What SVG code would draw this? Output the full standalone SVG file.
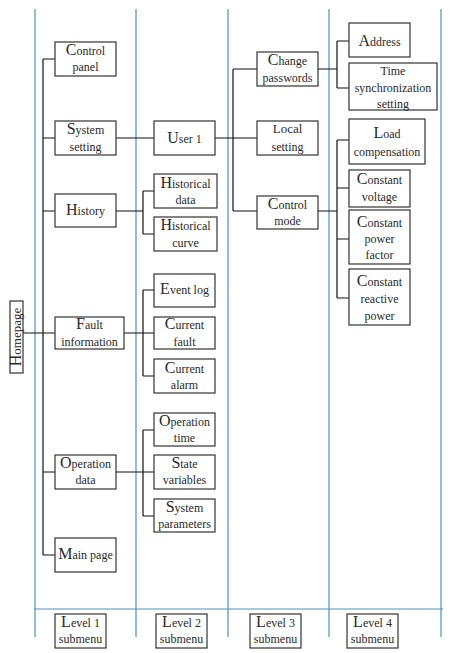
<svg xmlns="http://www.w3.org/2000/svg" width="453" height="653" viewBox="0 0 453 653">
<style>
.grid{stroke:#4a94bb;stroke-width:1.2;fill:none}
.box{fill:#fff;stroke:#333;stroke-width:1.2}
.con{stroke:#111;stroke-width:1.2;fill:none}
text{font-family:"Liberation Serif","Times New Roman",serif;font-size:12px;fill:#2a2a2a;text-anchor:middle}
.b{font-size:16px}
</style>
<rect width="453" height="653" fill="#fff"/>
<g id="grid">
<path class="grid" d="M35 9V637M136 9V637M228 9V637M329 9V637M441 9V637M34 609H443"/>
</g>
<g id="connectors">
<path class="con" d="M23 333H43M43 59V555M43 59H55M43 138H55M43 211H55M43 333H55M43 472H55M43 555H55"/>
<path class="con" d="M116 138H154M116 211H143M143 191V234M143 191H154M143 234H154"/>
<path class="con" d="M124 333H154M143 290V376M143 290H154M143 376H154"/>
<path class="con" d="M116 472H154M143 430V516M143 430H154M143 516H154"/>
<path class="con" d="M215 138H257M233 69V211M233 69H257M233 211H257"/>
<path class="con" d="M318 69H337M337 41V88M337 41H349M337 88H349"/>
<path class="con" d="M318 211H337M337 140V298M337 140H349M337 188H349M337 239H349M337 298H349"/>
</g>
<g id="homepage"><rect class="box" x="10" y="301" width="13" height="72"/><text transform="translate(21 337) rotate(-90)" style="font-size:13px"><tspan class="b">H</tspan>omepage</text></g>
<g id="control-panel"><rect class="box" x="55" y="42" width="61" height="34"/><text x="85.5" y="55"><tspan class="b">C</tspan>ontrol</text><text x="85.5" y="71">panel</text></g>
<g id="system-setting"><rect class="box" x="55" y="121" width="61" height="34"/><text x="85.5" y="134"><tspan class="b">S</tspan>ystem</text><text x="85.5" y="151">setting</text></g>
<g id="history"><rect class="box" x="55" y="194" width="61" height="33"/><text x="85.5" y="215"><tspan class="b">H</tspan>istory</text></g>
<g id="fault-information"><rect class="box" x="55" y="317" width="69" height="32"/><text x="89.5" y="329"><tspan class="b">F</tspan>ault</text><text x="89.5" y="346">information</text></g>
<g id="operation-data"><rect class="box" x="55" y="455" width="61" height="34"/><text x="85.5" y="468"><tspan class="b">O</tspan>peration</text><text x="85.5" y="484">data</text></g>
<g id="main-page"><rect class="box" x="55" y="538" width="61" height="34"/><text x="85.5" y="559"><tspan class="b">M</tspan>ain page</text></g>
<g id="user-1"><rect class="box" x="154" y="121" width="61" height="34"/><text x="184.5" y="143"><tspan class="b">U</tspan>ser 1</text></g>
<g id="historical-data"><rect class="box" x="154" y="174" width="63" height="34"/><text x="185.5" y="188"><tspan class="b">H</tspan>istorical</text><text x="185.5" y="204">data</text></g>
<g id="historical-curve"><rect class="box" x="154" y="217" width="63" height="34"/><text x="185.5" y="230"><tspan class="b">H</tspan>istorical</text><text x="185.5" y="247">curve</text></g>
<g id="event-log"><rect class="box" x="154" y="274" width="61" height="33"/><text x="184.5" y="294"><tspan class="b">E</tspan>vent log</text></g>
<g id="current-fault"><rect class="box" x="154" y="317" width="61" height="32"/><text x="184.5" y="329"><tspan class="b">C</tspan>urrent</text><text x="184.5" y="346">fault</text></g>
<g id="current-alarm"><rect class="box" x="154" y="359" width="61" height="34"/><text x="184.5" y="373"><tspan class="b">C</tspan>urrent</text><text x="184.5" y="389">alarm</text></g>
<g id="operation-time"><rect class="box" x="154" y="413" width="61" height="33"/><text x="184.5" y="426"><tspan class="b">O</tspan>peration</text><text x="184.5" y="442">time</text></g>
<g id="state-variables"><rect class="box" x="154" y="455" width="61" height="34"/><text x="184.5" y="468"><tspan class="b">S</tspan>tate</text><text x="184.5" y="484">variables</text></g>
<g id="system-parameters"><rect class="box" x="154" y="499" width="61" height="33"/><text x="184.5" y="512"><tspan class="b">S</tspan>ystem</text><text x="184.5" y="528">parameters</text></g>
<g id="change-passwords"><rect class="box" x="257" y="52" width="61" height="34"/><text x="287.5" y="65"><tspan class="b">C</tspan>hange</text><text x="287.5" y="82">passwords</text></g>
<g id="local-setting"><rect class="box" x="257" y="121" width="61" height="34"/><text x="287.5" y="133" style="font-size:13px">Local</text><text x="287.5" y="151">setting</text></g>
<g id="control-mode"><rect class="box" x="257" y="196" width="61" height="33"/><text x="287.5" y="209"><tspan class="b">C</tspan>ontrol</text><text x="287.5" y="225">mode</text></g>
<g id="address"><rect class="box" x="349" y="23" width="61" height="34"/><text x="379.5" y="46"><tspan class="b">A</tspan>ddress</text></g>
<g id="time-sync"><rect class="box" x="349" y="63" width="88" height="47"/><text x="393" y="75">Time</text><text x="393" y="92">synchronization</text><text x="393" y="108">setting</text></g>
<g id="load-compensation"><rect class="box" x="349" y="119" width="76" height="45"/><text x="387" y="138"><tspan class="b">L</tspan>oad</text><text x="387" y="156">compensation</text></g>
<g id="constant-voltage"><rect class="box" x="349" y="170" width="61" height="37"/><text x="379.5" y="184"><tspan class="b">C</tspan>onstant</text><text x="379.5" y="201">voltage</text></g>
<g id="constant-power-factor"><rect class="box" x="349" y="210" width="61" height="54"/><text x="379.5" y="227"><tspan class="b">C</tspan>onstant</text><text x="379.5" y="243">power</text><text x="379.5" y="259">factor</text></g>
<g id="constant-reactive-power"><rect class="box" x="349" y="269" width="61" height="56"/><text x="379.5" y="286"><tspan class="b">C</tspan>onstant</text><text x="379.5" y="303">reactive</text><text x="379.5" y="320">power</text></g>
<g id="level-1"><rect class="box" x="55" y="614" width="51" height="34"/><text x="80.5" y="627"><tspan class="b">L</tspan>evel 1</text><text x="80.5" y="643">submenu</text></g>
<g id="level-2"><rect class="box" x="156" y="614" width="51" height="34"/><text x="181.5" y="627"><tspan class="b">L</tspan>evel 2</text><text x="181.5" y="643">submenu</text></g>
<g id="level-3"><rect class="box" x="250" y="614" width="51" height="34"/><text x="275.5" y="627"><tspan class="b">L</tspan>evel 3</text><text x="275.5" y="643">submenu</text></g>
<g id="level-4"><rect class="box" x="347" y="614" width="51" height="34"/><text x="372.5" y="627"><tspan class="b">L</tspan>evel 4</text><text x="372.5" y="643">submenu</text></g>
</svg>
